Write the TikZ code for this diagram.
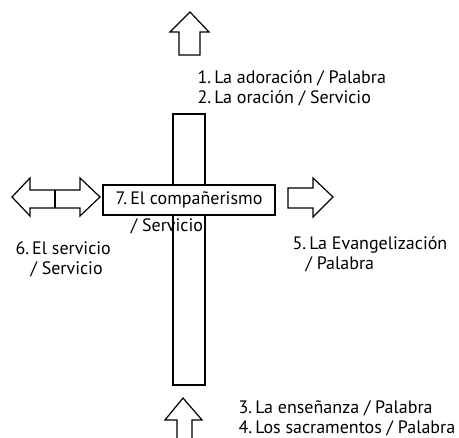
\documentclass[tikz,border=0pt]{standalone}
\usepackage{fontspec}
\setmainfont{PT Sans}
\usetikzlibrary{positioning}

\begin{document}
\begin{tikzpicture}
    [x=1pt, y=-1pt, line width=1.2pt, every node/.style={font=\fontsize{18}{20}\selectfont},
    txt/.style={align=left, anchor=west, inner sep=0pt}]
    % Define styles for the cross
    \tikzstyle{post} = [draw, rectangle, minimum width=32pt, minimum height=271pt, inner sep=0pt]
    \tikzstyle{beam} = [draw, fill=white, rectangle, minimum width=172pt, minimum height=30pt, inner sep=0pt]
    \useasboundingbox (0,0) rectangle (459,438);

    % Cross
    \node [post] (post) at (189,249.5) {};
    \node [beam] (beam) at (189,200) {7.\,El compañerismo};
    \node [below=2pt of beam.south, xshift=-22pt, inner sep=0pt] (beamlabel) {/ Servicio};

    % Block arrows
    \draw (179,55) -- (179,32) -- (170,32) -- (190,12) -- (209,32) -- (200,32) -- (200,55) -- cycle;
    \draw (177,438) -- (177,420) -- (165,420) -- (183,398) -- (202,420) -- (192,420) -- (192,438);
    \draw (12,197) -- (30,178) -- (30,190) -- (80,190) -- (80,178) -- (100,197) -- (80,216)
        -- (80,208) -- (30,208) -- (30,216) -- cycle;
    \draw (55,190) -- (55,208);
    \draw (288,188) -- (313,188) -- (313,178) -- (333,197) -- (313,217) -- (313,208) -- (288,208) -- cycle;

    % Labels
    \node [txt] (worship) at (197,88) {1.\,La adoración / Palabra\\2.\,La oración / Servicio};
    \node [txt] (outreach) at (292,254) {5.\,La Evangelización\\\hspace{13pt}/ Palabra};
    \node [txt] (service) at (15,259) {6.\,El servicio\\\hspace{15pt}/ Servicio};
    \node [txt] (teaching) at (238,418) {3.\,La enseñanza / Palabra\\4.\,Los sacramentos / Palabra};
\end{tikzpicture}
\end{document}
